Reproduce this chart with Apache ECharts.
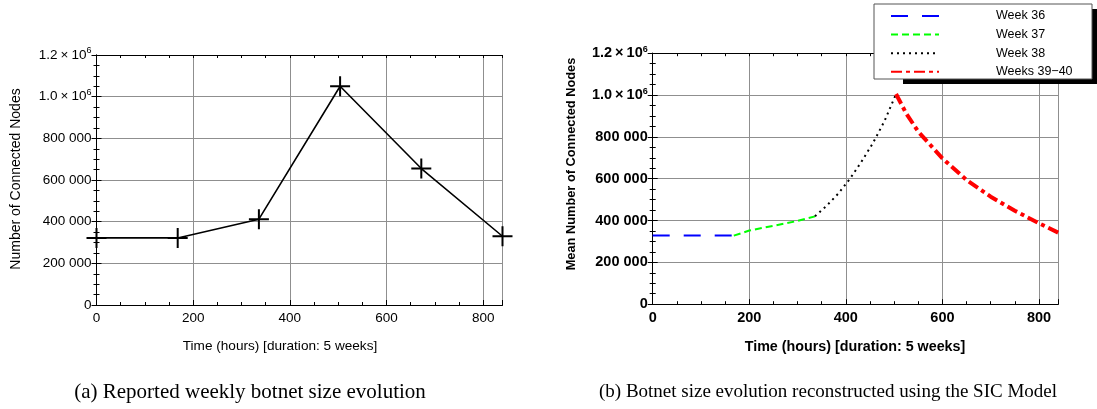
<!DOCTYPE html>
<html><head><meta charset="utf-8">
<script src="https://cdn.jsdelivr.net/npm/echarts@6/dist/echarts.min.js"></script>
<style>html,body{margin:0;padding:0;background:#fff}#c{width:1097px;height:409px}</style>
</head><body><div id="c"></div>
<script>
// (a) reported weekly botnet size
const leftHours = [0, 168, 336, 504, 672, 840];
const leftNodes = [322000, 322000, 412000, 1050000, 655000, 330000];
// (b) SIC model reconstruction
const w36Hours = [0, 168];
const w36Nodes = [328000, 328000];
const w37Hours = [168, 200, 250, 300, 336];
const w37Nodes = [328000, 352000, 375000, 398000, 420000];
const w38Hours = [336, 360, 384, 408, 432, 456, 480, 504];
const w38Nodes = [420000, 470000, 528000, 598000, 680000, 770000, 875000, 1005000];
const w39Hours = [504, 525, 550, 575, 600, 650, 700, 750, 800, 840];
const w39Nodes = [1005000, 912000, 825000, 761000, 697000, 594000, 514000, 447000, 387000, 342000];
const seriesNames = ['Week 36', 'Week 37', 'Week 38', 'Weeks 39\u221240'];
const xTitle = 'Time (hours) [duration: 5 weeks]';
const yTitleA = 'Number of Connected Nodes';
const yTitleB = 'Mean Number of Connected Nodes';
const captionA = '(a) Reported weekly botnet size evolution';
const captionB = '(b) Botnet size evolution reconstructed using the SIC Model';

const pairs = (xs, ys) => xs.map((x, i) => [x, ys[i]]);
const FONT = '"Liberation Sans", Arial, Helvetica, sans-serif';
const SERIF = '"Liberation Serif", "Times New Roman", serif';

function yFmt(v) {
  if (v === 0) return '0';
  if (v >= 1e6) return (v / 1e6).toFixed(1) + '{x|\u00d7}10{sup|6}';
  const s = String(v);
  return s.slice(0, s.length - 3) + ' ' + s.slice(s.length - 3);
}

function axesFor(gi, bold, fs) {
  const fw = bold ? 'bold' : 'normal';
  const line = { show: true, lineStyle: { color: '#000', width: 1 } };
  const xs = [
    { gridIndex: gi, type: 'value', min: 0, max: 840, interval: 200, position: 'bottom',
      axisLine: line, axisTick: { show: true, inside: true, length: 5, lineStyle: { color: '#000' } },
      splitLine: { show: true, lineStyle: { color: '#8f8f8f', width: 1 } },
      axisLabel: { color: '#000', fontFamily: FONT, fontSize: fs, fontWeight: fw, margin: 6,
        formatter: v => (v % 200 === 0 ? String(v) : '') } },
    { gridIndex: gi, type: 'value', min: 0, max: 840, interval: 50, position: 'bottom',
      axisLine: { show: false }, axisTick: { show: true, inside: true, length: 3, lineStyle: { color: '#000' } },
      splitLine: { show: false }, axisLabel: { show: false } },
    { gridIndex: gi, type: 'value', min: 0, max: 840, interval: 50, position: 'top',
      axisLine: line, axisTick: { show: true, inside: true, length: 3, lineStyle: { color: '#000' } },
      splitLine: { show: false }, axisLabel: { show: false } }
  ];
  const ys = [
    { gridIndex: gi, type: 'value', min: 0, max: 1200000, interval: 200000, position: 'left',
      axisLine: line, axisTick: { show: true, inside: true, length: 5, lineStyle: { color: '#000' } },
      minorTick: { show: true, splitNumber: 4, length: 3, lineStyle: { color: '#000' } },
      splitLine: { show: true, lineStyle: { color: '#8f8f8f', width: 1 } },
      axisLabel: { color: '#000', fontFamily: FONT, fontSize: fs, fontWeight: fw, margin: 5, formatter: yFmt,
        rich: { x: { fontFamily: FONT, fontSize: fs, fontWeight: fw, padding: [0, 3, 0, 3] },
                sup: { fontFamily: FONT, fontSize: 9, fontWeight: fw, verticalAlign: 'bottom', padding: [0, 0, 8, 0] } } } },
    { gridIndex: gi, type: 'value', min: 0, max: 1200000, interval: 200000, position: 'right',
      axisLine: line, axisTick: { show: true, inside: true, length: 5, lineStyle: { color: '#000' } },
      minorTick: { show: true, splitNumber: 4, length: 3, lineStyle: { color: '#000' } },
      splitLine: { show: false }, axisLabel: { show: false } }
  ];
  return { xs, ys };
}

const a = axesFor(0, false, 13.5);
const b = axesFor(1, true, 14.5);
const cross = 'path://M9,0 H11 V9 H20 V11 H11 V20 H9 V11 H0 V9 H9 Z';

const option = {
  animation: false,
  backgroundColor: '#fff',
  grid: [
    { left: 96.5, top: 55, width: 406, height: 250 },
    { left: 652.7, top: 53.2, width: 405.6, height: 251 }
  ],
  xAxis: a.xs.concat(b.xs),
  yAxis: a.ys.concat(b.ys),
  legend: {
    orient: 'vertical', left: 890, top: 9, padding: 0, itemWidth: 48, itemHeight: 14, itemGap: 4.6,
    z: 20, data: seriesNames,
    itemStyle: { opacity: 0 },
    textStyle: { fontFamily: FONT, fontSize: 12.5, color: '#000', padding: [0, 0, 0, 52], height: 14, lineHeight: 14 }
  },
  series: [
    { type: 'line', xAxisIndex: 0, yAxisIndex: 0, data: pairs(leftHours, leftNodes),
      lineStyle: { color: '#000', width: 1.6 }, symbol: cross, symbolSize: 20,
      itemStyle: { color: '#000' }, z: 3 },
    { name: seriesNames[0], type: 'line', xAxisIndex: 3, yAxisIndex: 2, data: pairs(w36Hours, w36Nodes),
      symbol: 'none', color: '#0000ff', lineStyle: { color: '#0000ff', width: 2, type: [17, 14] } },
    { name: seriesNames[1], type: 'line', xAxisIndex: 3, yAxisIndex: 2, data: pairs(w37Hours, w37Nodes),
      symbol: 'none', color: '#00ff00', lineStyle: { color: '#00ff00', width: 2, type: [7, 4] } },
    { name: seriesNames[2], type: 'line', xAxisIndex: 3, yAxisIndex: 2, data: pairs(w38Hours, w38Nodes),
      symbol: 'none', color: '#000', lineStyle: { color: '#000', width: 2, type: [2, 4] } },
    { name: seriesNames[3], type: 'line', xAxisIndex: 3, yAxisIndex: 2, data: pairs(w39Hours, w39Nodes),
      symbol: 'none', color: '#ff0000', lineStyle: { color: '#ff0000', width: 4, type: [11, 4, 4, 4] } }
  ],
  graphic: [
    { type: 'rect', z: 15, shape: { x: 903, y: 9, width: 200, height: 75 }, style: { fill: '#000' } },
    { type: 'rect', z: 16, shape: { x: 874, y: 4, width: 218, height: 75 }, style: { fill: '#fff', stroke: '#555', lineWidth: 1 } },
    { type: 'text', z: 10, x: 16, y: 179, rotation: Math.PI / 2,
      style: { text: yTitleA, fontFamily: FONT, fontSize: 14, fill: '#000', align: 'center', verticalAlign: 'middle' } },
    { type: 'text', z: 10, x: 280, y: 346,
      style: { text: xTitle, fontFamily: FONT, fontSize: 13.6, fill: '#000', align: 'center', verticalAlign: 'middle' } },
    { type: 'text', z: 10, x: 571, y: 164, rotation: Math.PI / 2,
      style: { text: yTitleB, fontFamily: FONT, fontSize: 12.8, fontWeight: 'bold', fill: '#000', align: 'center', verticalAlign: 'middle' } },
    { type: 'text', z: 10, x: 855, y: 347,
      style: { text: xTitle, fontFamily: FONT, fontSize: 14.3, fontWeight: 'bold', fill: '#000', align: 'center', verticalAlign: 'middle' } },
    { type: 'text', z: 10, x: 250, y: 392,
      style: { text: captionA, fontFamily: SERIF, fontSize: 21, fill: '#000', align: 'center', verticalAlign: 'middle' } },
    { type: 'text', z: 10, x: 828, y: 392,
      style: { text: captionB, fontFamily: SERIF, fontSize: 19, fill: '#000', align: 'center', verticalAlign: 'middle' } }
  ]
};
const chart = echarts.init(document.getElementById('c'), null, { renderer: 'canvas' });
chart.setOption(option);
</script></body></html>
